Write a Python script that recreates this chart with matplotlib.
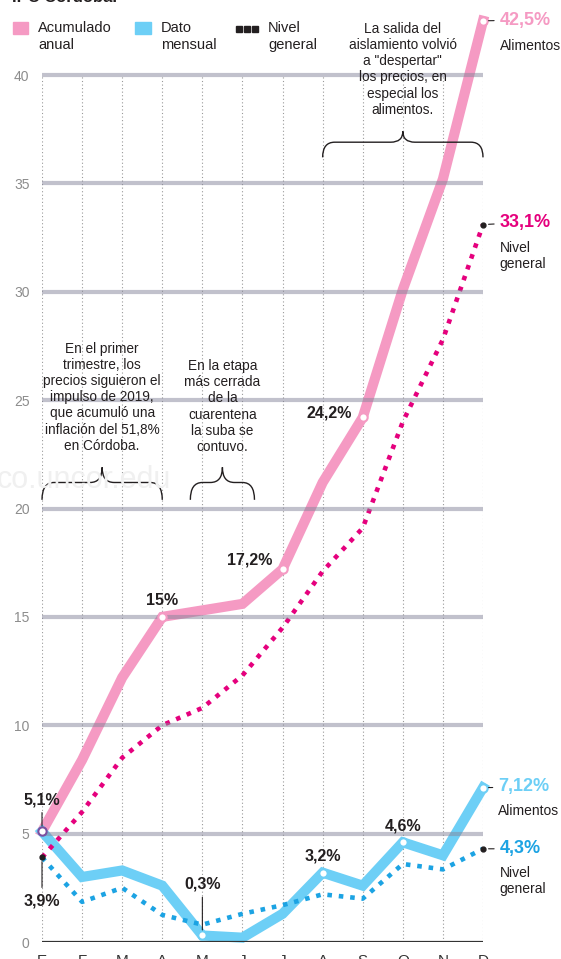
import matplotlib
matplotlib.use("Agg")
import matplotlib.pyplot as plt
from matplotlib.path import Path
from matplotlib.patches import PathPatch, Rectangle

plt.rcParams['font.family'] = ['Liberation Sans', 'DejaVu Sans']

months = ['E', 'F', 'M', 'A', 'M', 'J', 'J', 'A', 'S', 'O', 'N', 'D']
acum_alim = [5.1, 8.4, 12.2, 15.0, 15.3, 15.6, 17.2, 21.2, 24.2, 30.1, 35.2, 42.5]
acum_gen = [3.9, 6.0, 8.5, 10.0, 10.8, 12.3, 14.5, 17.1, 19.1, 24.0, 27.8, 33.1]
mens_alim = [5.1, 3.0, 3.3, 2.6, 0.3, 0.2, 1.3, 3.2, 2.6, 4.6, 4.0, 7.12]
mens_gen = [3.9, 1.85, 2.5, 1.25, 0.8, 1.3, 1.7, 2.2, 2.0, 3.6, 3.35, 4.3]
yticks = [0, 5, 10, 15, 20, 25, 30, 35, 40]

PINK = '#f59ac3'
MAGENTA = '#e5007d'
LBLUE = '#6dcff6'
BLUE = '#1ca3e3'
DARK = '#231f20'

x = list(range(len(months)))

fig = plt.figure(figsize=(5.61, 9.59), dpi=100)
ax = fig.add_axes([42 / 561, 17 / 959, 441 / 561, 942 / 959])
ax.set_xlim(0, 11)
ax.set_ylim(0, 942 / 21.675)
for s in ax.spines.values():
    s.set_visible(False)

# grid
for i in x:
    ax.plot([i, i], [0, 40], color='#9a9a9a', lw=0.8, ls=(0, (1, 2.2)), zorder=1)
for v in yticks[1:]:
    ax.axhline(v, color='#85859a', alpha=0.5, lw=3, zorder=4)
ax.axhline(0, color='#333333', lw=1.6, zorder=5)

ax.set_yticks(yticks)
ax.set_yticklabels([str(v) for v in yticks], color='#8c8c8c', fontsize=10)
ax.tick_params(axis='y', length=0, pad=9)
ax.set_xticks(x)
ax.set_xticklabels(months, color='#333333', fontsize=11)
ax.tick_params(axis='x', length=0, pad=8.5)

# series
ax.plot(x, acum_alim, color=PINK, lw=7.3, solid_joinstyle='miter', zorder=2, clip_on=False)
ax.plot(x, mens_alim, color=LBLUE, lw=7.3, solid_joinstyle='miter', zorder=2.5, clip_on=False)
ax.plot(x, acum_gen, color=MAGENTA, lw=3.3, ls=(0, (1, 1.5)), dash_capstyle='butt', zorder=3, clip_on=False)
ax.plot(x, mens_gen, color=BLUE, lw=3.3, ls=(0, (1, 1.5)), dash_capstyle='butt', zorder=3, clip_on=False)

# markers
mk = dict(marker='o', ms=6, mfc='white', mew=1.5, ls='none', zorder=6, clip_on=False)
ax.plot([x[i] for i in (3, 6, 8, 11)], [acum_alim[i] for i in (3, 6, 8, 11)], mec=PINK, **mk)
ax.plot([x[i] for i in (4, 7, 9, 11)], [mens_alim[i] for i in (4, 7, 9, 11)], mec=LBLUE, **mk)
ax.plot([0], [acum_alim[0]], mec='#7b4fa0', **mk)
ax.plot([0, 11, 11], [acum_gen[0], acum_gen[11], mens_gen[11]], marker='o', ms=3.5,
        color=DARK, ls='none', zorder=6, clip_on=False)

# value labels
line = dict(arrowstyle='-', lw=0.8, color=DARK)
lab = dict(textcoords='offset points', fontsize=11.5, fontweight='bold', color=DARK, zorder=7)
ax.annotate('5,1%', xy=(0, 5.1), xytext=(0, 23), ha='center', va='center',
            arrowprops=dict(shrinkA=2, shrinkB=4, **line), **lab)
ax.annotate('3,9%', xy=(0, 3.9), xytext=(0, -31), ha='center', va='center',
            arrowprops=dict(shrinkA=2, shrinkB=3, **line), **lab)
ax.annotate('15%', xy=(3, 15.0), xytext=(0, 12), ha='center', va='center', **lab)
ax.annotate('0,3%', xy=(4, 0.3), xytext=(0, 37), ha='center', va='center',
            arrowprops=dict(shrinkA=2, shrinkB=4, **line), **lab)
ax.annotate('17,2%', xy=(6, 17.2), xytext=(-7, 6.5), ha='right', va='center', **lab)
ax.annotate('24,2%', xy=(8, 24.2), xytext=(-8, 3.5), ha='right', va='center', **lab)
ax.annotate('3,2%', xy=(7, 3.2), xytext=(0, 12), ha='center', va='center', **lab)
ax.annotate('4,6%', xy=(9, 4.6), xytext=(0, 11.5), ha='center', va='center', **lab)

big = dict(textcoords='offset points', fontsize=13, fontweight='bold', ha='left', va='center', zorder=7)
small = dict(textcoords='offset points', fontsize=10, color=DARK, ha='left', va='center',
             linespacing=1.2, zorder=7)
end_line = dict(arrowstyle='-', lw=0.8, color=DARK, shrinkA=2, shrinkB=4)
ax.annotate('42,5%', xy=(11, 42.5), xytext=(12, 0.5), color=PINK, arrowprops=end_line, **big)
ax.annotate('Alimentos', xy=(11, 42.5), xytext=(12, -18), **small)
ax.annotate('33,1%', xy=(11, 33.1), xytext=(12, 1.5), color=MAGENTA, arrowprops=end_line, **big)
ax.annotate('Nivel\ngeneral', xy=(11, 33.1), xytext=(12, -22.5), **small)
ax.annotate('7,12%', xy=(11, 7.12), xytext=(11, 0.5), color=LBLUE, arrowprops=end_line, **big)
ax.annotate('Alimentos', xy=(11, 7.12), xytext=(11, -16.5), **small)
ax.annotate('4,3%', xy=(11, 4.3), xytext=(12, 0), color=BLUE, arrowprops=end_line, **big)
ax.annotate('Nivel\ngeneral', xy=(11, 4.3), xytext=(12, -23), **small)

# notes
note = dict(fontsize=9.8, color=DARK, ha='center', va='top', linespacing=1.2, zorder=7)
ax.text(1.5, 27.7, 'En el primer\ntrimestre, los\nprecios siguieron el\nimpulso de 2019,\n'
        'que acumuló una\ninflación del 51,8%\nen Córdoba.', **note)
ax.text(4.5, 26.9, 'En la etapa\nmás cerrada\nde la\ncuarentena\nla suba se\ncontuvo.', **note)
ax.text(9.0, 42.45, 'La salida del\naislamiento volvió\na "despertar"\nlos precios, en\n'
        'especial los\nalimentos.', **note)


def brace(x0, x1, yb, yf, yp):
    xm = (x0 + x1) / 2
    r = 0.3
    verts = [(x0, yb), (x0, yf), (x0 + r, yf), (xm - r, yf), (xm, yf), (xm, yp),
             (xm, yf), (xm + r, yf), (x1 - r, yf), (x1, yf), (x1, yb)]
    codes = [Path.MOVETO, Path.CURVE3, Path.CURVE3, Path.LINETO, Path.CURVE3, Path.CURVE3,
             Path.CURVE3, Path.CURVE3, Path.LINETO, Path.CURVE3, Path.CURVE3]
    ax.add_patch(PathPatch(Path(verts, codes), fill=False, lw=1.0, ec=DARK, zorder=7, clip_on=False))


brace(0, 3, 20.4, 21.2, 21.9)
brace(3.7, 5.3, 20.4, 21.2, 21.9)
brace(7, 11, 36.2, 36.9, 37.4)

# watermark and top text
fig.text(-0.005, 1 - 480 / 959, 'co.uncor.edu', fontsize=22, color='#f0f0f0', va='center', zorder=0)
fig.text(12 / 561, 1 - 2 / 959, 'IPC Córdoba.', fontsize=12, fontweight='bold', color=DARK, va='baseline')

# legend
fig.patches.append(Rectangle((13 / 561, 1 - 34 / 959), 15 / 561, 12 / 959, transform=fig.transFigure,
                             color=PINK, figure=fig))
fig.patches.append(Rectangle((135 / 561, 1 - 34 / 959), 16 / 561, 12 / 959, transform=fig.transFigure,
                             color=LBLUE, figure=fig))
for k in range(3):
    fig.patches.append(Rectangle(((236 + 8 * k) / 561, 1 - 32 / 959), 6 / 561, 6 / 959,
                                 transform=fig.transFigure, color=DARK, figure=fig))
leg = dict(fontsize=10.5, color=DARK, va='top', linespacing=1.25)
fig.text(38 / 561, 1 - 21 / 959, 'Acumulado\nanual', **leg)
fig.text(161 / 561, 1 - 21 / 959, 'Dato\nmensual', **leg)
fig.text(268 / 561, 1 - 21 / 959, 'Nivel\ngeneral', **leg)

fig.savefig('out.png', dpi=100)
